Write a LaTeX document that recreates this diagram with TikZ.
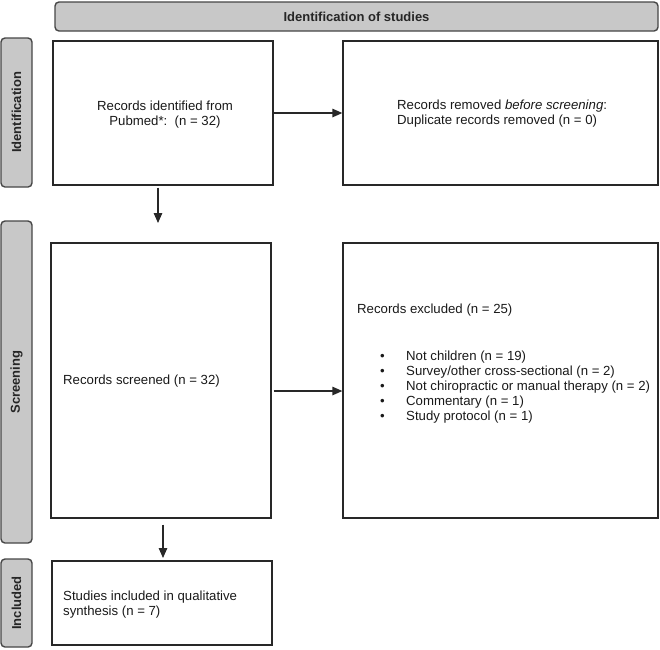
\documentclass[tikz,border=0pt]{standalone}
\usepackage{fontspec}
\setmainfont{Liberation Sans}
\usetikzlibrary{arrows.meta}
\definecolor{barfill}{RGB}{200,200,200}
\definecolor{baredge}{RGB}{70,70,70}
\definecolor{boxedge}{RGB}{40,40,40}
\begin{document}
\begin{tikzpicture}[x=1pt,y=-1pt,
  txt/.style={font=\fontsize{13.2}{15}\selectfont, inner sep=0pt, text=black!90},
  lbl/.style={font=\fontsize{13}{15}\selectfont\bfseries, inner sep=0pt, text=black!85},
  bar/.style={draw=baredge, fill=barfill, line width=1.4pt, rounded corners=4pt, inner sep=0pt},
  box/.style={draw=boxedge, line width=1.3pt, inner sep=0pt},
  arr/.style={draw=boxedge, line width=1.3pt, -{Triangle[length=10pt,width=8.5pt]}}]
\useasboundingbox (0,0) rectangle (660,649);

% banner and phase bars
\node[bar, minimum width=603pt, minimum height=29pt] (banner) at (356.5,16.5) {};
\node[lbl] (bannertxt) at (356.5,17) {Identification of studies};
\node[bar, minimum width=31pt, minimum height=149pt] (idbar) at (16.5,112.5) {};
\node[lbl, rotate=90] (idtxt) at (16.5,112.5) {Identification};
\node[bar, minimum width=31pt, minimum height=322pt] (scrbar) at (16.5,382) {};
\node[lbl, rotate=90] (scrtxt) at (16.5,382) {Screening};
\node[bar, minimum width=31pt, minimum height=88pt] (incbar) at (16.5,603) {};
\node[lbl, rotate=90] (inctxt) at (16.5,603) {Included};

% boxes
\node[box, minimum width=220pt, minimum height=144pt] (box1) at (163,113) {};
\node[box, minimum width=315pt, minimum height=144pt] (box2) at (500.5,113) {};
\node[box, minimum width=220pt, minimum height=275pt] (box3) at (161,380.5) {};
\node[box, minimum width=315pt, minimum height=275pt] (box4) at (500.5,380.5) {};
\node[box, minimum width=220pt, minimum height=84pt] (box5) at (162,603) {};

% texts
\node[txt, align=center] (t1) at (165,115) {Records identified from\\Pubmed*:~~(n = 32)};
\node[txt, align=left, anchor=west] (t2) at (397,114) {Records removed \textit{before screening}:\\Duplicate records removed (n = 0)};
\node[txt, anchor=west] (t3) at (63,381) {Records screened (n = 32)};
\node[txt, anchor=west] (t4) at (357,310) {Records excluded (n = 25)};
\node[txt, align=left, anchor=west] (t5) at (380,387) {%
\makebox[26pt][l]{\textbullet}Not children (n = 19)\\
\makebox[26pt][l]{\textbullet}Survey/other cross-sectional (n = 2)\\
\makebox[26pt][l]{\textbullet}Not chiropractic or manual therapy (n = 2)\\
\makebox[26pt][l]{\textbullet}Commentary (n = 1)\\
\makebox[26pt][l]{\textbullet}Study protocol (n = 1)};
\node[txt, align=left, anchor=west] (t6) at (63,604.5) {Studies included in qualitative\\synthesis (n = 7)};

% connectors
\coordinate (d1) at (158,223);
\coordinate (d2) at (163,558);
\draw[arr] (box1.east) -- (box2.west);
\draw[arr, shorten <=2pt] (box1.south -| d1) -- (d1);
\draw[arr, shorten <=2pt] ([yshift=-10.5pt]box3.east) -- ([yshift=-10.5pt]box4.west);
\draw[arr, shorten <=6pt] (box3.south -| d2) -- (d2);
\end{tikzpicture}
\end{document}
